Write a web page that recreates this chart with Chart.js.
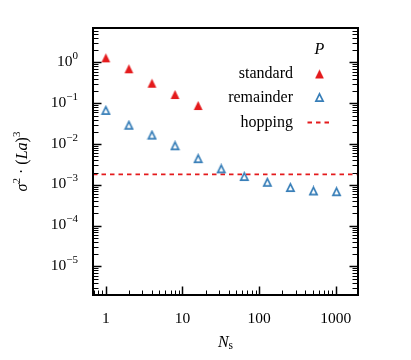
<!DOCTYPE html>
<html><head><meta charset="utf-8">
<script src="https://cdn.jsdelivr.net/npm/chart.js@4"></script>
<style>html,body{margin:0;padding:0;background:#fff}canvas{display:block}</style>
</head><body>
<canvas id="c" width="411" height="360"></canvas>
<script>
// ---- data ----
const nsStandard = [1, 2, 4, 8, 16];
const valStandard = [1.30, 0.70, 0.31, 0.164, 0.088];
const nsRemainder = [1, 2, 4, 8, 16, 32, 64, 128, 256, 512, 1024];
const valRemainder = [0.067, 0.029, 0.0166, 0.0091, 0.0044, 0.00247, 0.0016, 0.00116, 0.00086, 0.00071, 0.00068];
const hoppingValue = 0.0018;
const xRange = [0.68, 1950];
const yRange = [2.0e-6, 7.0];
const xTickValues = [1, 10, 100, 1000];
const xTickLabels = ['1', '10', '100', '1000'];
const yTickExponents = [0, -1, -2, -3, -4, -5];
const legendTitle = 'P';
const legendLabels = ['standard', 'remainder', 'hopping'];

const RED = '#e41a1c', BLUE = '#377eb8';
const FAM = '"Liberation Serif", serif';

function makeTri(filled) {
  const c = document.createElement('canvas');
  c.width = 11; c.height = 11;
  const g = c.getContext('2d');
  g.beginPath();
  if (filled) {
    g.moveTo(5.5, 1.1); g.lineTo(1.1, 9.9); g.lineTo(9.9, 9.9); g.closePath();
    g.fillStyle = RED; g.fill();
  } else {
    g.moveTo(5.5, 1.9); g.lineTo(1.9, 9.2); g.lineTo(9.1, 9.2); g.closePath();
    g.fillStyle = '#fff'; g.fill();
    g.lineWidth = 1.7; g.strokeStyle = BLUE; g.lineJoin = 'miter'; g.stroke();
  }
  return c;
}
const redTri = makeTri(true), blueTri = makeTri(false);

function drawRich(ctx, segs, x, y, align) {
  let w = 0;
  segs.forEach(s => { ctx.font = s.font; s.w = ctx.measureText(s.t).width; w += s.w; });
  let cx = align === 'right' ? x - w : align === 'center' ? x - w / 2 : x;
  segs.forEach(s => { ctx.font = s.font; ctx.fillText(s.t, cx, y + (s.dy || 0)); cx += s.w; });
}

const axesPlugin = {
  id: 'axesPlugin',
  afterDraw(chart) {
    const ctx = chart.ctx;
    const { left, right, top, bottom } = chart.chartArea;
    const xs = chart.scales.x, ys = chart.scales.y;
    ctx.save();
    ctx.strokeStyle = '#000'; ctx.fillStyle = '#000';
    const line = (x1, y1, x2, y2) => { ctx.beginPath(); ctx.moveTo(x1, y1); ctx.lineTo(x2, y2); ctx.stroke(); };
    // y ticks (left & right)
    for (let e = -7; e <= 1; e++) for (let m = 1; m <= 9; m++) {
      const v = m * Math.pow(10, e);
      if (v < yRange[0] || v > yRange[1]) continue;
      const p = Math.round(ys.getPixelForValue(v)) + 0.5;
      const major = m === 1;
      ctx.lineWidth = major ? 1.5 : 1;
      const len = major ? 8.5 : 5.5;
      line(left, p, left + len, p);
      line(right, p, right - len, p);
    }
    // x ticks (bottom)
    for (let e = -1; e <= 3; e++) for (let m = 1; m <= 9; m++) {
      const v = m * Math.pow(10, e);
      if (v < xRange[0] || v > xRange[1]) continue;
      const p = Math.round(xs.getPixelForValue(v)) + 0.5;
      const major = m === 1;
      ctx.lineWidth = major ? 1.5 : 1;
      const len = major ? 8.5 : 4.5;
      line(p, bottom, p, bottom - len);
    }
    // frame
    ctx.lineWidth = 2;
    ctx.strokeRect(left, top, right - left, bottom - top);
    // tick labels
    ctx.textAlign = 'left'; ctx.textBaseline = 'alphabetic';
    yTickExponents.forEach(ex => {
      const p = ys.getPixelForValue(Math.pow(10, ex));
      const es = ex < 0 ? '\u2212' + Math.abs(ex) : String(ex);
      drawRich(ctx, [
        { t: '10', font: '15.5px ' + FAM },
        { t: es, font: '11px ' + FAM, dy: -7 }
      ], left - 15, p + 3.5, 'right');
    });
    xTickValues.forEach((v, i) => {
      const p = xs.getPixelForValue(v);
      drawRich(ctx, [{ t: xTickLabels[i], font: '15.5px ' + FAM }], p, 322.5, 'center');
    });
    // axis titles
    drawRich(ctx, [
      { t: 'N', font: 'italic 16px ' + FAM },
      { t: 's', font: '11.5px ' + FAM, dy: 2.5 }
    ], (left + right) / 2, 346.5, 'center');
    ctx.save();
    ctx.translate(27, (top + bottom) / 2);
    ctx.rotate(-Math.PI / 2);
    drawRich(ctx, [
      { t: '\u03c3', font: 'italic 16px ' + FAM },
      { t: '2', font: '11px ' + FAM, dy: -7 },
      { t: ' \u00b7 (', font: '16px ' + FAM },
      { t: 'La', font: 'italic 16px ' + FAM },
      { t: ')', font: '16px ' + FAM },
      { t: '3', font: '11px ' + FAM, dy: -7 }
    ], 0, 0, 'center');
    ctx.restore();
    // legend
    const mx = 319.5;
    drawRich(ctx, [{ t: legendTitle, font: 'italic 16px ' + FAM }], mx, 53.5, 'center');
    const rows = [74, 97.5, 122.5];
    legendLabels.forEach((lab, i) => {
      drawRich(ctx, [{ t: lab, font: '16px ' + FAM }], 293, rows[i] + 4, 'right');
    });
    ctx.drawImage(redTri, mx - 5.5, rows[0] - 5.5);
    ctx.drawImage(blueTri, mx - 5.5, rows[1] - 5.5);
    ctx.strokeStyle = RED; ctx.lineWidth = 1.8; ctx.setLineDash([4.5, 4]);
    line(307.5, rows[2], 330.5, rows[2]);
    ctx.restore();
  }
};

new Chart(document.getElementById('c'), {
  type: 'scatter',
  data: {
    datasets: [
      { label: legendLabels[0], data: nsStandard.map((n, i) => ({ x: n, y: valStandard[i] })),
        pointStyle: redTri, pointRadius: 5, showLine: false },
      { label: legendLabels[1], data: nsRemainder.map((n, i) => ({ x: n, y: valRemainder[i] })),
        pointStyle: blueTri, pointRadius: 5, showLine: false },
      { label: legendLabels[2], type: 'line', data: xRange.map(x => ({ x: x, y: hoppingValue })),
        borderColor: RED, borderWidth: 1.8, borderDash: [4.5, 4], pointRadius: 0, showLine: true, fill: false }
    ]
  },
  options: {
    responsive: false, animation: false, devicePixelRatio: 1,
    layout: { padding: { left: 93, right: 53, top: 28, bottom: 65 } },
    scales: {
      x: { type: 'logarithmic', min: xRange[0], max: xRange[1], display: false },
      y: { type: 'logarithmic', min: yRange[0], max: yRange[1], display: false }
    },
    plugins: { legend: { display: false }, tooltip: { enabled: false } }
  },
  plugins: [axesPlugin]
});
</script>
</body></html>
